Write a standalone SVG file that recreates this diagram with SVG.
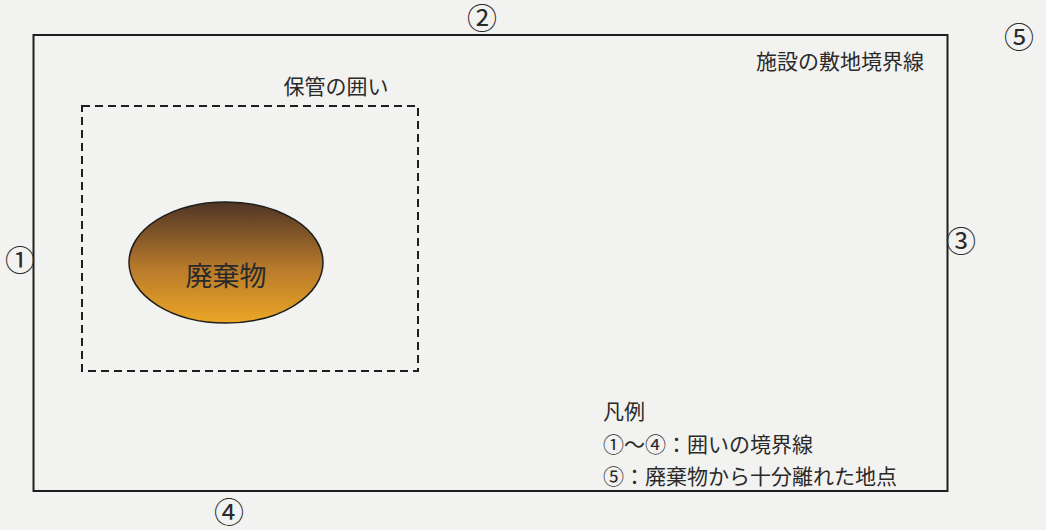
<svg xmlns="http://www.w3.org/2000/svg" width="1046" height="530" viewBox="0 0 1046 530">
  <defs>
    <linearGradient id="waste" x1="0" y1="0" x2="0" y2="1">
      <stop offset="0" stop-color="#4e3524"/>
      <stop offset="0.55" stop-color="#b87a2c"/>
      <stop offset="1" stop-color="#eca626"/>
    </linearGradient>
    <style>
      .t { font-family: "Liberation Serif", "Noto Sans CJK JP", serif; fill: #2a2a2a; }
      .m { font-size: 30px; text-anchor: middle; }
    </style>
  </defs>
  <rect x="0" y="0" width="1046" height="530" fill="#f2f2f0"/>
  <g id="site-boundary">
    <rect x="33.5" y="35" width="914" height="456" fill="none" stroke="#1e1e1e" stroke-width="2"/>
    <text class="t" x="840" y="69" font-size="21" text-anchor="middle">施設の敷地境界線</text>
  </g>
  <g id="storage-enclosure">
    <rect x="82" y="106" width="336" height="265" fill="none" stroke="#1e1e1e" stroke-width="2" stroke-dasharray="8,5"/>
    <text class="t" x="336" y="94" font-size="21" text-anchor="middle">保管の囲い</text>
  </g>
  <g id="waste-node">
    <ellipse cx="226" cy="262.5" rx="97" ry="60.5" fill="url(#waste)" stroke="#1e1e1e" stroke-width="1.5"/>
    <text class="t" x="226" y="286" font-size="27" text-anchor="middle" fill="#3a2a1c">廃棄物</text>
  </g>
  <g id="markers">
    <text class="t m" x="20" y="271">①</text>
    <text class="t m" x="482" y="29">②</text>
    <text class="t m" x="961" y="252">③</text>
    <text class="t m" x="229" y="523">④</text>
    <text class="t m" x="1019" y="48">⑤</text>
  </g>
  <g id="legend">
    <text class="t" x="603" y="419" font-size="21">凡例</text>
    <text class="t" x="603" y="452" font-size="21">①～④：囲いの境界線</text>
    <text class="t" x="603" y="484" font-size="21">⑤：廃棄物から十分離れた地点</text>
  </g>
  <g id="connectors"></g>
</svg>
